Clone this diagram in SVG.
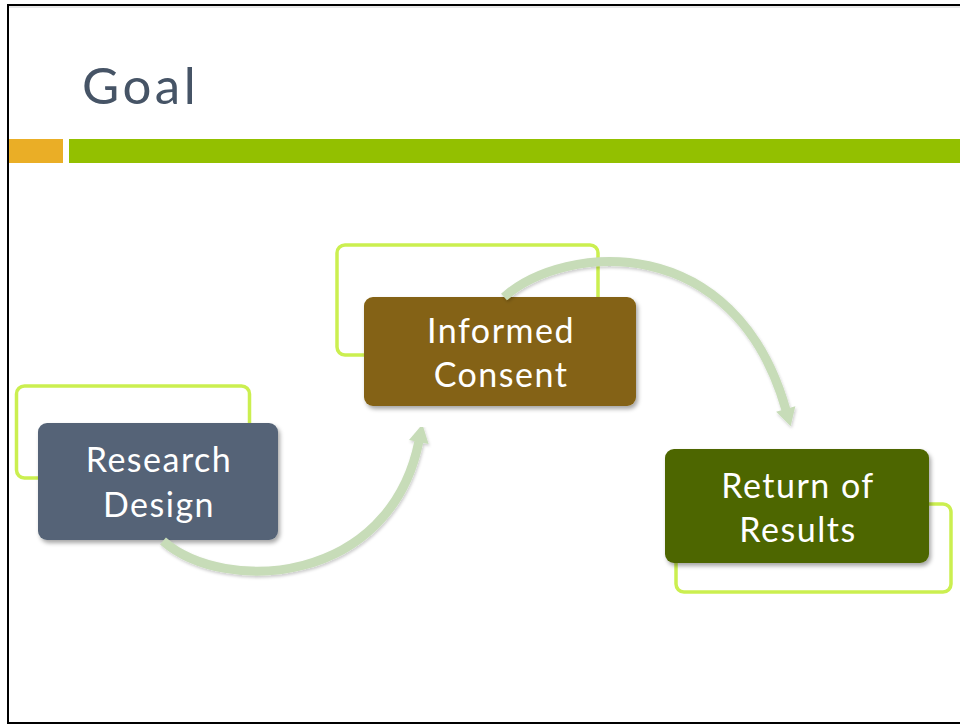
<svg xmlns="http://www.w3.org/2000/svg" width="960" height="725" viewBox="0 0 960 725">
  <style>
    .frame { fill: none; stroke: #CBEF50; stroke-width: 3.5; }
    .box { filter: url(#shadow); }
    .label { font-family: Lato, "Open Sans", "Liberation Sans", sans-serif; font-size: 34px; fill: #FFFFFF; text-anchor: middle; letter-spacing: 1.5px; }
    .title { font-family: Lato, "Open Sans", "Liberation Sans", sans-serif; font-size: 51px; fill: #465466; letter-spacing: 3.5px; }
    .arc { fill: none; stroke: #C7DCB8; stroke-width: 9; filter: url(#ashadow); }
  </style>
  <defs>
    <filter id="shadow" x="-10%" y="-10%" width="125%" height="130%">
      <feDropShadow dx="2" dy="3" stdDeviation="2" flood-color="#000000" flood-opacity="0.35"/>
    </filter>
    <filter id="ashadow" x="-10%" y="-10%" width="125%" height="130%">
      <feDropShadow dx="1" dy="2" stdDeviation="1.5" flood-color="#000000" flood-opacity="0.2"/>
    </filter>
    <marker id="head" markerUnits="userSpaceOnUse" markerWidth="24" markerHeight="24" viewBox="0 -12 20 24" refX="1" refY="0" orient="auto">
      <path d="M0,-10 L18,0 L0,10 z" fill="#C7DCB8"/>
    </marker>
  </defs>
  <rect width="960" height="725" fill="#FFFFFF"/>
  <!-- slide border -->
  <g id="border" stroke="#000000" stroke-width="2" fill="none">
    <line x1="8" y1="5" x2="960" y2="5"/>
    <line x1="8" y1="4" x2="8" y2="724"/>
    <line x1="8" y1="723" x2="960" y2="723"/>
  </g>
  <line x1="9" y1="7" x2="960" y2="7" stroke="#D0D0D0" stroke-width="1"/>
  <!-- title -->
  <text class="title" x="82" y="104">Goal</text>
  <rect x="9" y="139" width="54" height="24" fill="#EAAE26"/>
  <rect x="69" y="139" width="891" height="24" fill="#93C000"/>

  <g id="node-research-design">
    <rect class="frame" x="16.5" y="386" width="233" height="92" rx="8"/>
    <rect class="box" x="38" y="423" width="240" height="117" rx="9" fill="#556477"/>
    <text class="label" x="159" y="472">Research</text>
    <text class="label" x="159" y="517">Design</text>
  </g>
  <g id="node-informed-consent">
    <rect class="frame" x="337" y="245" width="261" height="110" rx="8"/>
    <rect class="box" x="364" y="297" width="272" height="109" rx="9" fill="#846212"/>
    <text class="label" x="501" y="343">Informed</text>
    <text class="label" x="501" y="387">Consent</text>
  </g>
  <g id="node-return-of-results">
    <rect class="frame" x="676" y="504" width="275" height="88" rx="8"/>
    <rect class="box" x="665" y="449" width="264" height="114" rx="9" fill="#4E6600"/>
    <text class="label" x="798" y="498">Return of</text>
    <text class="label" x="798" y="542">Results</text>
  </g>

  <g id="connectors">
    <path class="arc" d="M163,541 C225,595 390,585 419,441" marker-end="url(#head)"/>
    <path class="arc" d="M504,297 C565,243 735,230 786,410" marker-end="url(#head)"/>
  </g>
</svg>
